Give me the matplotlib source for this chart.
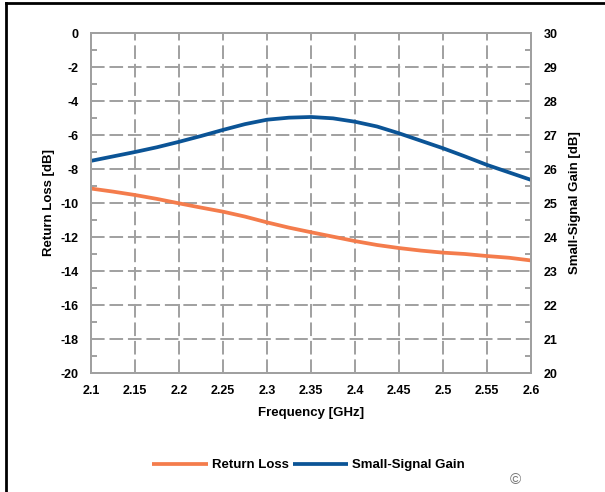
import numpy as np
import matplotlib.pyplot as plt
from matplotlib.lines import Line2D

plt.rcParams['font.family'] = ['Liberation Sans', 'DejaVu Sans']
plt.rcParams['font.weight'] = 'bold'
plt.rcParams['axes.unicode_minus'] = False

# frequency points [GHz]
freq = [2.1, 2.125, 2.15, 2.175, 2.2, 2.225, 2.25, 2.275, 2.3, 2.325, 2.35,
        2.375, 2.4, 2.425, 2.45, 2.475, 2.5, 2.525, 2.55, 2.575, 2.6]

# return loss [dB], left axis
return_loss = [-9.15, -9.33, -9.53, -9.76, -10.02, -10.27, -10.51, -10.8, -11.14, -11.45, -11.72,
               -11.98, -12.24, -12.47, -12.65, -12.8, -12.92, -13.0, -13.12, -13.22, -13.38]

# small-signal gain [dB], right axis
gain = [26.24, 26.37, 26.5, 26.64, 26.8, 26.97, 27.15, 27.32, 27.45, 27.51, 27.53,
        27.49, 27.39, 27.25, 27.05, 26.83, 26.61, 26.37, 26.12, 25.9, 25.68]

xticks = [2.1, 2.15, 2.2, 2.25, 2.3, 2.35, 2.4, 2.45, 2.5, 2.55, 2.6]
xticklabels = ['2.1', '2.15', '2.2', '2.25', '2.3', '2.35', '2.4', '2.45', '2.5', '2.55', '2.6']

orange = '#F47C4C'
blue = '#0B5496'
gridc = '#A0A0A0'

fig = plt.figure(figsize=(6.05, 4.92), dpi=100)
ax = fig.add_axes([91/605, 1 - 373/492, 440/605, 340/492])
ax2 = ax.twinx()

l1, = ax.plot(freq, return_loss, color=orange, lw=2.7, solid_capstyle='butt')
l2, = ax2.plot(freq, gain, color=blue, lw=2.7, solid_capstyle='butt')

ax.set_xlim(2.1, 2.6)
ax.set_ylim(-20, 0)
ax2.set_ylim(20, 30)
ax.set_xticks(xticks)
ax.set_xticklabels(xticklabels)
ax.set_yticks(np.arange(-20, 1, 2))
ax.set_yticks(np.arange(-19, 0, 2), minor=True)
ax2.set_yticks(np.arange(20, 31, 1))
ax2.set_yticks(np.arange(20.5, 30, 1), minor=True)

ax.grid(True, which='major', color=gridc, lw=1.4, linestyle=(0, (7, 2.5)))

for a in (ax, ax2):
    for s in a.spines.values():
        s.set_color(gridc)
        s.set_linewidth(1.4)
    a.tick_params(which='major', length=0, labelsize=9, pad=9)
    a.tick_params(which='minor', length=4, width=1.4, color=gridc, direction='in')
ax.tick_params(axis='x', pad=9)

ax.set_xlabel('Frequency [GHz]', fontsize=9.5, fontweight='bold', labelpad=7)
ax.set_ylabel('Return Loss [dB]', fontsize=9.5, fontweight='bold', labelpad=4)
ax2.set_ylabel('Small-Signal Gain [dB]', fontsize=9.5, fontweight='bold', labelpad=8)

fig.legend([l1, l2], ['Return Loss', 'Small-Signal Gain'], loc='center',
           bbox_to_anchor=(0.51, 1 - 465/492), ncol=2, frameon=False,
           fontsize=9.5, handlelength=4.2, handletextpad=0.3, columnspacing=0.3)

fig.text(515/605, 1 - 480/492, '\u00a9', fontsize=11, color='#777777',
         ha='center', va='center', fontweight='normal')

# outer frame (top and left edges visible)
fig.add_artist(Line2D([6/605, 6/605], [0, 1 - 3/492], transform=fig.transFigure,
                      color='black', lw=2))
fig.add_artist(Line2D([6/605, 1], [1 - 3/492, 1 - 3/492], transform=fig.transFigure,
                      color='black', lw=2))

fig.savefig('out.png', dpi=100)
